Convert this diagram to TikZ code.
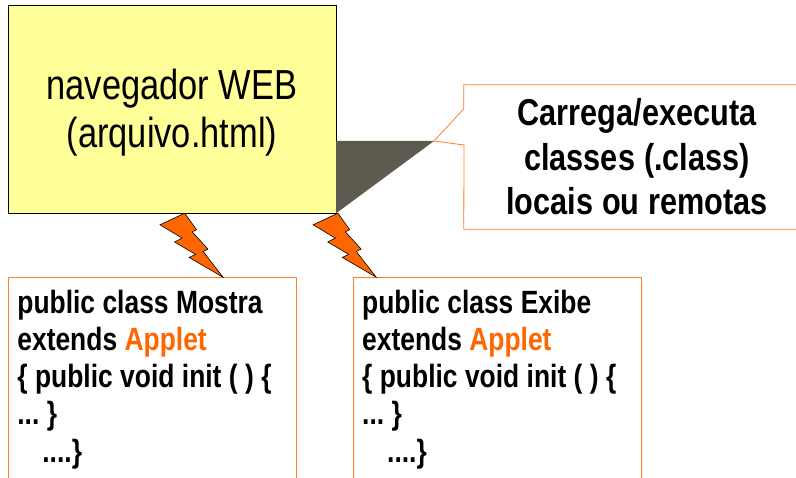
\documentclass[tikz,border=0pt]{standalone}
\usepackage{fontspec}
\setmainfont[FakeStretch=0.82]{Liberation Sans}
\usepackage{xcolor}
\usetikzlibrary{positioning}

\definecolor{notepad}{HTML}{FFFF99}
\definecolor{boltorange}{HTML}{FF6600}
\definecolor{frameorange}{HTML}{FF7F2A}
\definecolor{wedgegray}{HTML}{5F5A50}

\tikzset{
  browserbox/.style={draw=black, fill=notepad, minimum width=328pt, minimum height=208pt, inner sep=0pt},
  browserlabel/.style={align=center, inner sep=0pt, font=\fontsize{42}{48}\selectfont},
  notelabel/.style={align=center, inner sep=0pt, minimum width=346pt, minimum height=144pt, font=\bfseries\fontsize{37.4}{44.5}\selectfont,
    execute at begin node={\spaceskip=0.24em\relax}},
  noteline/.style={draw=frameorange, line width=0.8pt},
  codebox/.style={draw=frameorange, line width=0.8pt, text width=270pt, inner xsep=9pt, inner ysep=12.5pt, align=left, anchor=north west, font=\bfseries\fontsize{32.2}{37.2}\selectfont,
    execute at begin node={\frenchspacing\spaceskip=0.23em plus 0.05em\relax}},
  bolt/.pic={
    \filldraw[fill=boltorange, draw=black, line width=0.6pt, line join=miter]
      (0,0) -- (-24.7,11.6) -- (-2.6,24.9) -- (-10.1,28.8) -- (10.9,41.2) -- (4.4,44.2)
      -- (38.3,64) -- (18.4,38.3) -- (23.2,35.9) -- (7.5,18.6) -- (11.8,16.5) -- cycle;
  }
}

\begin{document}
\begin{tikzpicture}[x=1pt, y=-1pt]
\clip (0,0) rectangle (796,478);
\fill[white] (0,0) rectangle (796,478);

% browser
\node[browserbox] (browser) at (172,109) {};
\node[browserlabel] (browsertext) at ([yshift=-4pt]browser.center) {navegador WEB\\(arquivo.html)};

% note on the right
\node[notelabel] (note) at (637,157) {Carrega/executa\\classes (.class)\\locais ou remotas};
\coordinate (tip) at (434,141);
\fill[wedgegray] (browser.south east) -- (tip) -- (browser.east |- tip) -- cycle;
\draw[noteline] (note.north east) -- (note.north west) -- ++(0,24) -- (tip) -- ++(30,4)
  -- (note.south west) -- (note.south east);

% the two applets
\node[codebox] (mostra) at (8,277) {public class Mostra\\extends \textcolor{boltorange}{Applet}\\\{ public void init ( ) \{\\... \}\\\hspace*{25pt}....\}};
\node[codebox, right=56pt of mostra] (exibe) {public class Exibe\\extends \textcolor{boltorange}{Applet}\\\{ public void init ( ) \{\\... \}\\\hspace*{25pt}....\}};

\pic at ([xshift=12.7pt]browser.south) {bolt};
\pic at ([xshift=1.7pt]browser.south east) {bolt};
\end{tikzpicture}
\end{document}
